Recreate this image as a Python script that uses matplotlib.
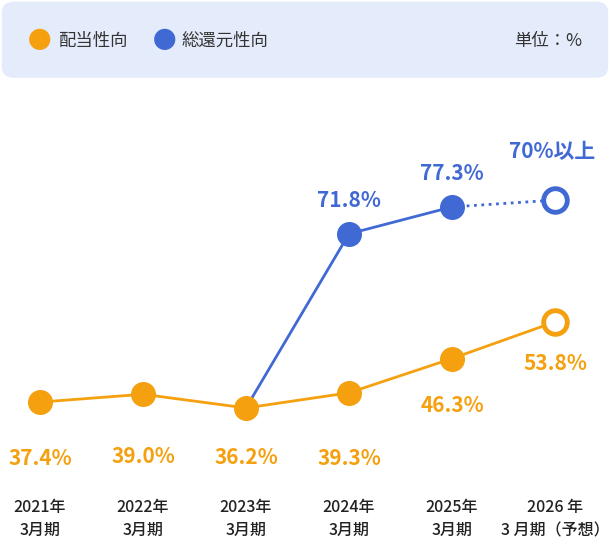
import matplotlib.pyplot as plt
from matplotlib.patches import FancyBboxPatch

plt.rcParams['font.family'] = 'Noto Sans CJK JP'

years = ['2021年\n3月期', '2022年\n3月期', '2023年\n3月期', '2024年\n3月期', '2025年\n3月期', '2026 年\n3 月期（予想）']
payout = [37.4, 39.0, 36.2, 39.3, 46.3, 53.8]
total_x = [2, 3, 4]
total = [36.2, 71.8, 77.3]
target_level = 78.7  # plotted position of the "70%以上" target
orange = '#f5a00f'
blue = '#4169d4'

fig = plt.figure(figsize=(6.1, 5.44), dpi=100)
ax = fig.add_axes([0, 0, 1, 1])
ax.set_xlim(-0.388, 5.534)
ax.set_ylim(8.39, 119.6)
ax.axis('off')

# legend box
box = FancyBboxPatch((0.003, 0.857), 0.994, 0.14, boxstyle='round,pad=0,rounding_size=0.02',
                     transform=fig.transFigure, fc='#e4ecfb', ec='none')
fig.patches.append(box)
fig.text(40 / 610, 1 - 41 / 544, '●', color=orange, fontsize=17, ha='center', va='center')
fig.text(58 / 610, 1 - 41 / 544, '配当性向', fontsize=12.5, va='center', color='#333333')
fig.text(165 / 610, 1 - 41 / 544, '●', color=blue, fontsize=17, ha='center', va='center')
fig.text(182 / 610, 1 - 41 / 544, '総還元性向', fontsize=12.5, va='center', color='#333333')
fig.text(582 / 610, 1 - 41 / 544, '単位：%', fontsize=12.5, va='center', ha='right', color='#333333')

xs = list(range(len(years)))
ax.plot(xs, payout, color=orange, lw=2, zorder=2)
ax.plot(xs[:5], payout[:5], 'o', color=orange, ms=17, zorder=3)
ax.plot(xs[5], payout[5], 'o', mfc='white', mec=orange, mew=3.5, ms=17, zorder=3)

ax.plot(total_x, total, color=blue, lw=2, zorder=2)
ax.plot(total_x[1:], total[1:], 'o', color=blue, ms=17, zorder=3)
ax.plot([4, 5], [total[-1], target_level], ':', color=blue, lw=2, zorder=2)
ax.plot(5, target_level, 'o', mfc='white', mec=blue, mew=3.5, ms=17, zorder=3)

# value labels
offsets = [-56, -62, -50, -66, -47, -42]
for x, v, dy in zip(xs, payout, offsets):
    ax.annotate(f'{v:.1f}%', (x, v), xytext=(0, dy), textcoords='offset pixels',
                ha='center', va='center', fontsize=15, fontweight='bold', color=orange)
for x, v in zip(total_x[1:], total[1:]):
    ax.annotate(f'{v:.1f}%', (x, v), xytext=(0, 33), textcoords='offset pixels',
                ha='center', va='center', fontsize=15, fontweight='bold', color=blue)
ax.annotate('70%以上', (5, target_level), xytext=(-3, 48), textcoords='offset pixels',
            ha='center', va='center', fontsize=15, fontweight='bold', color=blue)

for x, lab in zip(xs, years):
    ax.text(x, 8.39 + (544 - 519) / 4.89, lab, ha='center', va='center', fontsize=11.5,
            color='#222222', linespacing=1.5, fontweight='medium')

fig.savefig('out.png', dpi=100)
